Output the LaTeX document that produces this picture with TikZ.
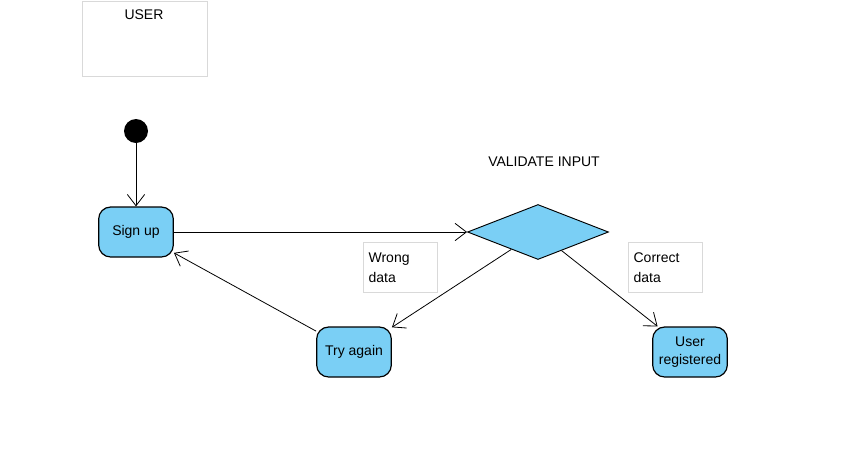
\documentclass[tikz,border=0pt]{standalone}
\usepackage{fontspec}
\setmainfont{Liberation Sans}
\usetikzlibrary{shapes.geometric,arrows.meta}
\begin{document}
\begin{tikzpicture}[x=0.75pt,y=-0.75pt,font=\fontsize{10.5}{15}\selectfont,
  state/.style={draw, line width=0.9pt, fill=stateblue, rounded corners=9pt, align=center, inner sep=2pt, minimum width=56pt, minimum height=37.5pt},
  note/.style={draw=notegray, anchor=north west, align=left, text width=47.5pt, inner xsep=4pt, minimum height=37.5pt},
  flow/.style={line width=0.6pt, -{Straight Barb[length=8.5pt,width=13pt]}}]
\definecolor{stateblue}{HTML}{7ACFF5}
\definecolor{notegray}{HTML}{D9D9D9}
\useasboundingbox (0,0) rectangle (853,465);
% swimlane header
\draw[notegray] (82,1) rectangle (207,76);
\node (user) at (144,15) {USER};
% states
\node[circle, fill=black, minimum size=18pt, inner sep=0pt] (start) at (136,131) {};
\node[state] (signup) at (136,232) {Sign up};
\node[diamond, draw, line width=0.7pt, fill=stateblue, minimum width=105.75pt, minimum height=41.25pt, inner sep=0pt] (check) at (538,232) {};
\node (checklabel) at (544,162) {VALIDATE INPUT};
\node[state] (retry) at (354,352) {Try again};
\node[state, font=\fontsize{10.5}{13.5}\selectfont] (done) at (690,352) {User\\registered};
% guards
\node[note] (wrong) at (363,242) {Wrong\\data};
\node[note] (correct) at (628,242) {Correct\\data};
% transitions
\draw[flow] (start) -- (signup);
\draw[flow] (signup) -- (check);
\draw[flow] (check) -- (retry);
\draw[flow] (check) -- (done);
\draw[flow] (retry) -- (signup);
\end{tikzpicture}
\end{document}
